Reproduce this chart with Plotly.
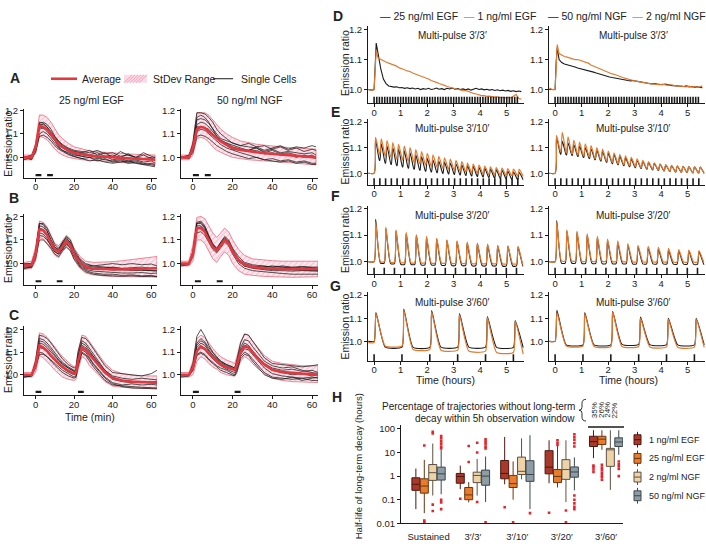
import numpy as np
import plotly.graph_objects as go

W, H = 706, 546
FONT = "Liberation Sans, Arial, Helvetica, sans-serif"
INK = "#1a1a1a"
RED = "#e2383f"
ORANGE = "#e27b30"

# ---------------- A-C : ERK activity after 1-2 pulses (time in min) ----------------
A_T = [-6, -2, 0, 2, 4, 6, 8, 10, 12, 14, 17, 20, 24, 28, 32, 36, 40, 44, 48, 52, 56, 60, 62]
B_T = [-6, -2, 0, 2, 4, 6, 8, 10, 12, 14, 16, 18, 20, 23, 26, 30, 35, 40, 45, 50, 55, 60, 63]
C_T = [-6, -2, 0, 2, 4, 6, 8, 10, 12, 14, 17, 20, 21, 22, 24, 26, 28, 30, 33, 36, 40, 45, 50, 55, 60, 63]

A_EGF_AVG = [1.0, 1.0, 1.04, 1.135, 1.13, 1.12, 1.10, 1.075, 1.055, 1.045, 1.03, 1.02, 1.013, 1.008, 1.005, 1.002, 1.0, 0.998, 0.996, 0.994, 0.992, 0.99, 0.99]
A_EGF_UP = [1.01, 1.01, 1.06, 1.18, 1.18, 1.17, 1.15, 1.12, 1.095, 1.08, 1.06, 1.045, 1.035, 1.028, 1.024, 1.021, 1.019, 1.017, 1.015, 1.013, 1.012, 1.01, 1.01]
A_EGF_LO = [0.99, 0.99, 1.02, 1.09, 1.085, 1.075, 1.055, 1.035, 1.02, 1.01, 1.0, 0.995, 0.99, 0.988, 0.986, 0.983, 0.98, 0.978, 0.976, 0.974, 0.972, 0.97, 0.97]
A_EGF_CELLS = [
    [1.0, 0.99, 1.03, 1.15, 1.145, 1.13, 1.10, 1.07, 1.045, 1.03, 1.02, 1.01, 1.005, 1.01, 1.0, 0.99, 0.985, 0.99, 0.98, 0.985, 0.975, 0.97, 0.965],
    [1.0, 1.0, 1.05, 1.14, 1.14, 1.13, 1.11, 1.085, 1.065, 1.05, 1.035, 1.025, 1.02, 1.012, 1.02, 1.005, 1.01, 1.0, 1.015, 1.0, 0.995, 1.0, 0.99],
    [0.99, 1.0, 1.04, 1.12, 1.125, 1.12, 1.105, 1.085, 1.065, 1.05, 1.035, 1.025, 1.02, 1.03, 1.01, 1.02, 1.0, 1.025, 1.01, 1.0, 1.02, 1.005, 1.0],
    [1.0, 1.0, 1.03, 1.10, 1.11, 1.10, 1.08, 1.06, 1.04, 1.03, 1.015, 1.005, 0.995, 0.985, 0.99, 0.98, 0.975, 0.98, 0.985, 0.975, 0.97, 0.965, 0.96],
    [1.0, 1.01, 1.05, 1.13, 1.125, 1.11, 1.09, 1.07, 1.05, 1.04, 1.025, 1.015, 1.005, 1.0, 0.995, 1.005, 0.99, 0.995, 0.985, 0.99, 0.98, 0.985, 0.975],
    [1.0, 0.995, 1.04, 1.145, 1.15, 1.14, 1.12, 1.09, 1.07, 1.055, 1.04, 1.03, 1.025, 1.02, 1.03, 1.015, 1.02, 1.005, 1.01, 1.0, 1.01, 0.995, 1.0],
    [1.0, 1.0, 1.02, 1.09, 1.095, 1.085, 1.07, 1.05, 1.035, 1.025, 1.012, 1.003, 0.995, 1.0, 0.985, 0.995, 0.98, 0.985, 0.975, 0.98, 0.97, 0.975, 0.97],
]
A_NGF_AVG = [1.0, 1.0, 1.04, 1.12, 1.13, 1.125, 1.11, 1.095, 1.08, 1.068, 1.053, 1.04, 1.032, 1.026, 1.022, 1.018, 1.015, 1.012, 1.01, 1.008, 1.005, 1.003, 1.0]
A_NGF_UP = [1.01, 1.01, 1.07, 1.19, 1.19, 1.19, 1.18, 1.16, 1.14, 1.12, 1.10, 1.085, 1.07, 1.062, 1.056, 1.052, 1.048, 1.045, 1.042, 1.04, 1.038, 1.036, 1.035]
A_NGF_LO = [0.99, 0.99, 1.01, 1.08, 1.085, 1.08, 1.065, 1.045, 1.03, 1.02, 1.01, 1.0, 0.995, 0.99, 0.988, 0.985, 0.982, 0.98, 0.978, 0.975, 0.972, 0.97, 0.968]
A_NGF_CELLS = [
    [1.0, 1.0, 1.06, 1.19, 1.19, 1.185, 1.17, 1.15, 1.12, 1.10, 1.08, 1.06, 1.05, 1.06, 1.045, 1.05, 1.035, 1.045, 1.03, 1.04, 1.025, 1.035, 1.03],
    [1.0, 1.01, 1.05, 1.17, 1.18, 1.17, 1.15, 1.12, 1.09, 1.07, 1.06, 1.05, 1.04, 1.03, 1.045, 1.03, 1.04, 1.05, 1.035, 1.045, 1.04, 1.05, 1.045],
    [1.0, 1.0, 1.04, 1.14, 1.15, 1.145, 1.13, 1.11, 1.09, 1.075, 1.06, 1.045, 1.035, 1.025, 1.03, 1.015, 1.02, 1.01, 1.015, 1.0, 1.01, 1.0, 0.995],
    [1.0, 0.995, 1.03, 1.11, 1.12, 1.115, 1.10, 1.085, 1.07, 1.055, 1.04, 1.03, 1.02, 1.01, 1.0, 0.99, 0.995, 0.985, 0.99, 0.98, 0.985, 0.975, 0.975],
    [1.0, 1.0, 1.02, 1.09, 1.095, 1.09, 1.08, 1.065, 1.05, 1.04, 1.025, 1.015, 1.005, 0.995, 1.0, 0.99, 0.985, 0.98, 0.985, 0.975, 0.98, 0.97, 0.97],
    [1.0, 1.005, 1.05, 1.16, 1.165, 1.16, 1.145, 1.12, 1.10, 1.08, 1.07, 1.06, 1.05, 1.045, 1.04, 1.02, 1.03, 1.015, 1.02, 1.01, 1.0, 1.01, 1.0],
    [1.0, 1.0, 1.04, 1.13, 1.13, 1.125, 1.12, 1.10, 1.08, 1.07, 1.05, 1.035, 1.03, 1.03, 1.04, 1.025, 1.035, 1.02, 1.025, 1.02, 1.015, 1.02, 1.01],
]

B_EGF_AVG = [0.99, 0.995, 1.04, 1.145, 1.14, 1.12, 1.09, 1.06, 1.05, 1.075, 1.095, 1.08, 1.04, 1.005, 0.985, 0.978, 0.976, 0.975, 0.975, 0.976, 0.977, 0.979, 0.98]
B_EGF_UP = [1.005, 1.01, 1.07, 1.18, 1.175, 1.155, 1.12, 1.085, 1.075, 1.10, 1.12, 1.105, 1.065, 1.03, 1.01, 1.005, 1.005, 1.008, 1.012, 1.017, 1.022, 1.028, 1.03]
B_EGF_LO = [0.975, 0.98, 1.01, 1.11, 1.105, 1.085, 1.06, 1.035, 1.025, 1.05, 1.07, 1.055, 1.015, 0.98, 0.96, 0.952, 0.948, 0.945, 0.944, 0.943, 0.943, 0.943, 0.943]
B_EGF_CELLS = [
    [0.99, 0.99, 1.05, 1.17, 1.165, 1.14, 1.10, 1.07, 1.06, 1.09, 1.11, 1.09, 1.05, 1.015, 0.995, 0.99, 0.995, 1.0, 0.995, 1.0, 0.995, 0.998, 0.99],
    [0.98, 0.985, 1.04, 1.15, 1.145, 1.125, 1.09, 1.06, 1.05, 1.08, 1.10, 1.085, 1.045, 1.0, 0.98, 0.975, 0.978, 0.972, 0.975, 0.97, 0.972, 0.97, 0.97],
    [1.0, 1.0, 1.03, 1.13, 1.125, 1.105, 1.075, 1.05, 1.04, 1.06, 1.08, 1.065, 1.03, 0.99, 0.97, 0.96, 0.955, 0.955, 0.95, 0.952, 0.948, 0.95, 0.945],
    [0.99, 0.995, 1.05, 1.16, 1.155, 1.135, 1.10, 1.07, 1.055, 1.085, 1.105, 1.09, 1.05, 1.01, 0.99, 0.985, 0.982, 0.985, 0.98, 0.982, 0.985, 0.98, 0.982],
    [0.985, 0.99, 1.035, 1.12, 1.115, 1.10, 1.075, 1.05, 1.04, 1.065, 1.085, 1.07, 1.035, 0.995, 0.975, 0.968, 0.965, 0.962, 0.96, 0.96, 0.962, 0.958, 0.96],
    [0.995, 1.0, 1.045, 1.17, 1.17, 1.15, 1.115, 1.08, 1.065, 1.09, 1.115, 1.10, 1.06, 1.02, 1.0, 0.99, 0.985, 0.98, 0.978, 0.975, 0.972, 0.97, 0.968],
    [0.98, 0.985, 1.02, 1.10, 1.10, 1.085, 1.065, 1.04, 1.03, 1.055, 1.07, 1.055, 1.02, 0.985, 0.965, 0.955, 0.95, 0.948, 0.946, 0.948, 0.945, 0.946, 0.944],
]
B_NGF_AVG = [1.0, 1.0, 1.04, 1.15, 1.15, 1.135, 1.10, 1.07, 1.055, 1.08, 1.10, 1.085, 1.05, 1.015, 0.995, 0.985, 0.98, 0.978, 0.977, 0.976, 0.976, 0.977, 0.978]
B_NGF_UP = [1.01, 1.01, 1.08, 1.195, 1.2, 1.19, 1.16, 1.13, 1.11, 1.13, 1.15, 1.135, 1.10, 1.06, 1.035, 1.02, 1.015, 1.012, 1.01, 1.01, 1.01, 1.01, 1.01]
B_NGF_LO = [0.99, 0.99, 1.01, 1.10, 1.10, 1.085, 1.05, 1.02, 1.005, 1.03, 1.05, 1.035, 1.0, 0.97, 0.955, 0.95, 0.946, 0.944, 0.943, 0.942, 0.942, 0.943, 0.944]
B_NGF_CELLS = [
    [1.0, 1.0, 1.05, 1.17, 1.17, 1.15, 1.11, 1.08, 1.06, 1.09, 1.11, 1.095, 1.06, 1.02, 1.0, 0.99, 0.985, 0.99, 0.985, 0.98, 0.985, 0.98, 0.98],
    [1.0, 1.0, 1.04, 1.16, 1.16, 1.145, 1.11, 1.075, 1.06, 1.085, 1.105, 1.09, 1.055, 1.01, 0.99, 0.98, 0.975, 0.97, 0.97, 0.968, 0.97, 0.968, 0.968],
    [0.99, 0.995, 1.03, 1.13, 1.135, 1.12, 1.09, 1.06, 1.045, 1.07, 1.09, 1.075, 1.04, 1.0, 0.98, 0.97, 0.965, 0.96, 0.958, 0.955, 0.956, 0.955, 0.955],
    [1.0, 1.0, 1.05, 1.175, 1.18, 1.16, 1.12, 1.085, 1.065, 1.09, 1.115, 1.10, 1.065, 1.03, 1.005, 0.995, 0.99, 0.985, 0.985, 0.982, 0.98, 0.982, 0.98],
    [0.995, 1.0, 1.04, 1.15, 1.155, 1.14, 1.105, 1.07, 1.055, 1.08, 1.10, 1.085, 1.05, 1.01, 0.99, 0.982, 0.978, 0.975, 0.975, 0.972, 0.972, 0.97, 0.97],
    [1.0, 1.0, 1.045, 1.17, 1.175, 1.155, 1.115, 1.08, 1.06, 1.085, 1.105, 1.09, 1.05, 1.01, 0.99, 0.985, 0.99, 0.985, 0.99, 0.985, 0.988, 0.985, 0.985],
]

C_EGF_AVG = [1.0, 1.0, 1.04, 1.13, 1.12, 1.105, 1.085, 1.065, 1.05, 1.035, 1.018, 1.005, 1.01, 1.06, 1.12, 1.11, 1.09, 1.07, 1.04, 1.01, 0.985, 0.975, 0.97, 0.968, 0.966, 0.965]
C_EGF_UP = [1.01, 1.01, 1.07, 1.185, 1.18, 1.165, 1.145, 1.12, 1.10, 1.08, 1.055, 1.035, 1.04, 1.10, 1.175, 1.17, 1.145, 1.12, 1.085, 1.05, 1.02, 1.005, 0.998, 0.995, 0.995, 0.995]
C_EGF_LO = [0.99, 0.99, 1.01, 1.085, 1.075, 1.06, 1.04, 1.02, 1.005, 0.99, 0.98, 0.975, 0.98, 1.02, 1.08, 1.07, 1.04, 1.02, 0.995, 0.97, 0.95, 0.945, 0.942, 0.94, 0.94, 0.94]
C_EGF_CELLS = [
    [1.0, 1.0, 1.06, 1.175, 1.17, 1.16, 1.14, 1.115, 1.09, 1.07, 1.045, 1.03, 1.035, 1.10, 1.165, 1.16, 1.14, 1.115, 1.08, 1.04, 1.01, 1.005, 1.0, 0.995, 1.005, 1.02],
    [0.99, 0.995, 1.04, 1.14, 1.135, 1.12, 1.10, 1.08, 1.06, 1.045, 1.03, 1.015, 1.02, 1.07, 1.13, 1.12, 1.10, 1.08, 1.05, 1.02, 0.995, 0.985, 0.98, 0.985, 0.98, 0.978],
    [1.0, 1.0, 1.03, 1.10, 1.095, 1.08, 1.06, 1.04, 1.025, 1.01, 0.995, 0.985, 0.99, 1.035, 1.095, 1.085, 1.06, 1.035, 1.005, 0.975, 0.955, 0.95, 0.948, 0.945, 0.944, 0.942],
    [0.995, 1.0, 1.05, 1.16, 1.155, 1.14, 1.12, 1.095, 1.075, 1.055, 1.035, 1.02, 1.025, 1.085, 1.15, 1.14, 1.115, 1.09, 1.055, 1.02, 0.99, 0.975, 0.97, 0.97, 0.968, 0.97],
    [1.0, 0.995, 1.035, 1.12, 1.115, 1.10, 1.08, 1.06, 1.045, 1.03, 1.012, 1.0, 1.005, 1.05, 1.11, 1.10, 1.075, 1.05, 1.02, 0.99, 0.965, 0.955, 0.96, 0.955, 0.958, 0.955],
    [1.0, 1.0, 1.04, 1.09, 1.09, 1.08, 1.065, 1.05, 1.035, 1.02, 1.005, 0.99, 0.995, 1.04, 1.10, 1.09, 1.07, 1.045, 1.015, 0.985, 0.96, 0.948, 0.942, 0.94, 0.94, 0.938],
    [0.99, 0.995, 1.045, 1.15, 1.145, 1.13, 1.11, 1.085, 1.065, 1.05, 1.03, 1.015, 1.02, 1.08, 1.14, 1.13, 1.105, 1.08, 1.045, 1.01, 0.98, 0.97, 0.965, 0.968, 0.964, 0.962],
]
C_NGF_AVG = [1.0, 1.0, 1.03, 1.105, 1.125, 1.115, 1.095, 1.075, 1.06, 1.045, 1.033, 1.025, 1.022, 1.04, 1.10, 1.125, 1.12, 1.10, 1.07, 1.045, 1.022, 1.012, 1.007, 1.005, 1.003, 1.002]
C_NGF_UP = [1.01, 1.01, 1.06, 1.16, 1.175, 1.165, 1.14, 1.115, 1.095, 1.08, 1.065, 1.055, 1.05, 1.075, 1.145, 1.18, 1.175, 1.15, 1.115, 1.085, 1.06, 1.05, 1.045, 1.04, 1.04, 1.04]
C_NGF_LO = [0.99, 0.99, 1.0, 1.06, 1.08, 1.07, 1.05, 1.035, 1.025, 1.01, 1.0, 0.995, 0.995, 1.005, 1.06, 1.08, 1.07, 1.05, 1.025, 1.005, 0.985, 0.975, 0.97, 0.968, 0.967, 0.966]
C_NGF_CELLS = [
    [1.0, 1.0, 1.05, 1.17, 1.20, 1.17, 1.13, 1.10, 1.08, 1.06, 1.045, 1.035, 1.03, 1.06, 1.14, 1.18, 1.175, 1.15, 1.11, 1.075, 1.05, 1.045, 1.04, 1.035, 1.04, 1.045],
    [0.995, 1.0, 1.03, 1.12, 1.14, 1.13, 1.105, 1.085, 1.07, 1.055, 1.04, 1.03, 1.025, 1.045, 1.11, 1.14, 1.13, 1.105, 1.075, 1.05, 1.03, 1.02, 1.025, 1.015, 1.02, 1.01],
    [1.0, 0.995, 1.02, 1.09, 1.10, 1.09, 1.07, 1.055, 1.04, 1.03, 1.02, 1.005, 1.0, 1.02, 1.08, 1.10, 1.09, 1.07, 1.04, 1.01, 0.99, 0.985, 0.98, 0.985, 0.975, 0.975],
    [1.0, 1.0, 1.04, 1.14, 1.16, 1.145, 1.12, 1.095, 1.075, 1.06, 1.045, 1.035, 1.03, 1.055, 1.12, 1.155, 1.15, 1.125, 1.09, 1.06, 1.04, 1.03, 1.035, 1.02, 1.01, 1.005],
    [0.99, 0.995, 1.02, 1.085, 1.095, 1.085, 1.065, 1.05, 1.035, 1.02, 1.01, 1.0, 0.995, 1.01, 1.07, 1.09, 1.085, 1.06, 1.03, 1.0, 0.985, 0.98, 0.99, 0.975, 0.985, 0.99],
    [1.0, 1.0, 1.035, 1.13, 1.15, 1.14, 1.11, 1.085, 1.065, 1.05, 1.035, 1.025, 1.02, 1.045, 1.105, 1.13, 1.125, 1.105, 1.075, 1.045, 1.02, 1.01, 1.0, 1.005, 0.995, 1.0],
    [1.0, 1.0, 1.03, 1.11, 1.12, 1.11, 1.09, 1.07, 1.055, 1.04, 1.025, 1.015, 1.01, 1.03, 1.09, 1.115, 1.11, 1.09, 1.06, 1.03, 1.005, 0.995, 0.99, 0.985, 0.99, 0.985],
]

# stimulus bars (min)
A_BARS = [[0, 3], [6, 9]]
B_BARS = [[0, 3], [11, 14]]
B_NGF_BARS = [[1, 4], [12, 15]]
C_BARS = [[0, 3], [22, 25]]
C_NGF_BARS = [[0, 3], [21, 24]]

# ---------------- D-G : multi-pulse experiments (time in hours) ----------------
D_T = [-0.22, -0.1, 0.0, 0.04, 0.08] + [round(0.15 + 0.1 * i, 2) for i in range(55)]
D_EGF25 = [1.0, 0.998, 1.0, 1.09, 1.155,
           1.12, 1.07, 1.035, 1.02, 1.012, 1.01, 1.008, 1.009, 1.006, 1.007, 1.004,
           1.006, 1.003, 1.005, 1.002, 1.004, 1.0, 1.003, 1.001, 1.004, 1.0, 1.002,
           1.005, 1.001, 1.003, 1.0, 1.004, 1.002, 1.005, 1.001, 1.003, 1.0, 1.002,
           0.999, 1.002, 0.998, 1.001, 1.004, 1.0, 1.002, 0.999, 1.001, 0.998, 1.0,
           0.997, 0.999, 0.996, 0.998, 0.995, 0.997, 0.994, 0.996, 0.993, 0.995, 0.993]
D_EGF1 = [1.0, 0.997, 1.0, 1.08, 1.13,
          1.105, 1.10, 1.095, 1.092, 1.088, 1.085, 1.08, 1.078, 1.072, 1.07, 1.066,
          1.062, 1.06, 1.055, 1.052, 1.048, 1.046, 1.042, 1.038, 1.035, 1.03, 1.028,
          1.024, 1.02, 1.018, 1.014, 1.01, 1.008, 1.004, 1.002, 1.0, 0.998, 0.996,
          0.997, 0.993, 0.99, 0.987, 0.985, 0.982, 0.98, 0.98, 0.977, 0.978, 0.976,
          0.975, 0.976, 0.973, 0.974, 0.972, 0.974, 0.972, 0.978, 0.984, 0.97, 0.968]
D_NGF50 = [1.0, 1.0, 1.0, 1.09, 1.14,
           1.10, 1.09, 1.085, 1.083, 1.08, 1.078, 1.075, 1.072, 1.07, 1.067, 1.065,
           1.062, 1.06, 1.058, 1.055, 1.052, 1.05, 1.048, 1.045, 1.042, 1.04, 1.038,
           1.036, 1.034, 1.033, 1.031, 1.03, 1.029, 1.03, 1.028, 1.026, 1.025, 1.024,
           1.022, 1.02, 1.019, 1.02, 1.018, 1.017, 1.016, 1.018, 1.015, 1.014, 1.013,
           1.012, 1.013, 1.011, 1.01, 1.012, 1.009, 1.01, 1.008, 1.009, 1.007, 1.006]
D_NGF2 = [1.005, 1.0, 1.0, 1.10, 1.15,
          1.12, 1.115, 1.11, 1.108, 1.105, 1.104, 1.10, 1.10, 1.097, 1.095, 1.092,
          1.088, 1.082, 1.078, 1.074, 1.07, 1.066, 1.062, 1.058, 1.055, 1.052, 1.05,
          1.046, 1.043, 1.04, 1.037, 1.034, 1.032, 1.03, 1.028, 1.026, 1.025, 1.023,
          1.022, 1.02, 1.019, 1.018, 1.017, 1.016, 1.018, 1.015, 1.014, 1.016, 1.013,
          1.012, 1.011, 1.012, 1.01, 1.009, 1.011, 1.008, 1.01, 1.007, 1.009, 1.012]

# pulse periods (pulse length + gap), hours
D_PERIOD = 6 / 60
E_PERIOD = 13 / 60
F_PERIOD = 23 / 60
G_PERIOD = 63 / 60

E_EGF25_PEAK = [1.13, 1.115, 1.105, 1.10, 1.095, 1.088, 1.08, 1.072, 1.065, 1.058, 1.052, 1.048, 1.044, 1.04, 1.036, 1.032, 1.029, 1.026, 1.022, 1.019, 1.016, 1.013, 1.011, 1.008, 1.005, 1.003]
E_EGF25_LOW = [1.0, 1.05, 1.04, 1.035, 1.03, 1.025, 1.02, 1.016, 1.012, 1.008, 1.005, 1.002, 1.0, 0.998, 0.996, 0.994, 0.992, 0.99, 0.988, 0.986, 0.984, 0.982, 0.98, 0.979, 0.977, 0.976, 0.975]
E_EGF1_PEAK = [1.14, 1.135, 1.128, 1.12, 1.113, 1.106, 1.10, 1.092, 1.085, 1.078, 1.072, 1.066, 1.06, 1.055, 1.05, 1.045, 1.04, 1.036, 1.032, 1.028, 1.025, 1.022, 1.02, 1.018, 1.016, 1.015]
E_EGF1_LOW = [1.0, 1.075, 1.068, 1.062, 1.057, 1.053, 1.048, 1.043, 1.038, 1.033, 1.028, 1.024, 1.02, 1.016, 1.012, 1.009, 1.006, 1.003, 1.0, 0.998, 0.996, 0.994, 0.993, 0.992, 0.991, 0.99, 0.988]
E_NGF50_PEAK = [1.14, 1.125, 1.118, 1.112, 1.106, 1.10, 1.095, 1.09, 1.085, 1.078, 1.072, 1.066, 1.06, 1.055, 1.05, 1.046, 1.042, 1.038, 1.035, 1.032, 1.03, 1.028, 1.027, 1.026, 1.025, 1.024]
E_NGF50_LOW = [1.0, 1.075, 1.072, 1.07, 1.066, 1.062, 1.058, 1.053, 1.048, 1.043, 1.038, 1.034, 1.03, 1.026, 1.022, 1.019, 1.016, 1.013, 1.011, 1.009, 1.007, 1.005, 1.004, 1.003, 1.002, 1.001, 1.0]
E_NGF2_PEAK = [1.148, 1.16, 1.142, 1.13, 1.122, 1.115, 1.108, 1.10, 1.094, 1.087, 1.08, 1.074, 1.068, 1.062, 1.056, 1.05, 1.045, 1.041, 1.037, 1.034, 1.031, 1.029, 1.027, 1.026, 1.025, 1.024]
E_NGF2_LOW = [1.0, 1.085, 1.08, 1.076, 1.072, 1.068, 1.064, 1.058, 1.053, 1.048, 1.043, 1.038, 1.034, 1.03, 1.026, 1.022, 1.019, 1.016, 1.013, 1.01, 1.008, 1.006, 1.004, 1.003, 1.002, 1.001, 1.0]

F_EGF25_PEAK = [1.16, 1.125, 1.115, 1.105, 1.10, 1.09, 1.085, 1.08, 1.075, 1.07, 1.068, 1.064, 1.06, 1.058, 1.055]
F_EGF25_LOW = [1.0, 0.995, 0.993, 0.99, 0.99, 0.988, 0.988, 0.987, 0.986, 0.986, 0.985, 0.985, 0.985, 0.984, 0.984, 0.984]
F_EGF1_PEAK = [1.15, 1.13, 1.12, 1.11, 1.10, 1.095, 1.088, 1.082, 1.078, 1.074, 1.07, 1.066, 1.062, 1.06, 1.058]
F_EGF1_LOW = [1.0, 1.0, 0.998, 0.997, 0.996, 0.996, 0.995, 0.995, 0.994, 0.994, 0.993, 0.993, 0.993, 0.992, 0.992, 0.99]
F_NGF50_PEAK = [1.155, 1.115, 1.11, 1.10, 1.09, 1.08, 1.072, 1.062, 1.056, 1.052, 1.048, 1.044, 1.042, 1.04, 1.038]
F_NGF50_LOW = [1.0, 0.995, 0.995, 0.994, 0.994, 0.993, 0.993, 0.993, 0.992, 0.992, 0.992, 0.992, 0.991, 0.991, 0.99, 0.99]
F_NGF2_PEAK = [1.15, 1.12, 1.115, 1.105, 1.095, 1.085, 1.078, 1.068, 1.062, 1.058, 1.054, 1.05, 1.046, 1.044, 1.042]
F_NGF2_LOW = [1.0, 1.003, 1.003, 1.002, 1.002, 1.002, 1.001, 1.001, 1.0, 1.0, 1.0, 1.0, 0.999, 0.999, 0.999, 0.998]

G_EGF25_PEAK = [1.125, 1.14, 1.133, 1.12, 1.108, 1.09]
G_EGF25_LOW = [1.0, 0.975, 0.974, 0.975, 0.975, 0.974, 0.973]
G_EGF1_PEAK = [1.12, 1.135, 1.128, 1.115, 1.103, 1.087]
G_EGF1_LOW = [0.995, 0.98, 0.965, 0.962, 0.958, 0.952, 0.945]
G_NGF50_PEAK = [1.135, 1.125, 1.13, 1.105, 1.10, 1.10]
G_NGF50_LOW = [1.0, 0.985, 0.985, 0.987, 0.986, 0.985, 0.985]
G_NGF2_PEAK = [1.125, 1.12, 1.128, 1.10, 1.095, 1.095]
G_NGF2_LOW = [1.0, 0.98, 0.978, 0.978, 0.976, 0.975, 0.974]

# ---------------- H : half-life box plots ----------------
H_CATS = ["Sustained", "3\u2032/3\u2032", "3\u2032/10\u2032", "3\u2032/20\u2032", "3\u2032/60\u2032"]
H_GROUPS = ["1 ng/ml EGF", "25 ng/ml EGF", "2 ng/ml NGF", "50 ng/ml NGF"]
EGF1_Q1 = [0.25, 0.5, 0.77, 1.25, 18]
EGF1_MED = [0.45, 0.97, 1.3, 2.4, 29]
EGF1_Q3 = [0.85, 1.3, 4.6, 12, 49]
EGF1_LO = [0.04, 0.28, 0.45, 0.5, 5.8]
EGF1_HI = [2.1, 2.8, 46, 33, 88]
EGF1_OUT = [[], [0.11], [0.048], [0.028], [2.8, 2.4, 1.9, 1.5]]
EGF25_Q1 = [0.19, 0.1, 0.33, 0.53, 22]
EGF25_MED = [0.38, 0.16, 0.48, 0.97, 37]
EGF25_Q3 = [0.77, 0.33, 1.07, 1.9, 49]
EGF25_LO = [0.027, 0.077, 0.1, 0.33, 13]
EGF25_HI = [4.9, 0.56, 4.2, 24, 88]
EGF25_OUT = [[20, 0.013, 0.011], [19, 4], [0.011], [33, 26, 21], [3, 2.3, 1.8, 1.4, 1.1, 0.9, 0.7]]
NGF2_Q1 = [0.66, 0.53, 1.17, 0.73, 2.6]
NGF2_MED = [1.4, 1.07, 1.6, 1.9, 13]
NGF2_Q3 = [3.1, 1.47, 6.4, 5.0, 15]
NGF2_LO = [0.15, 0.15, 0.73, 0.08, 0.26]
NGF2_HI = [24, 5.3, 40, 33, 88]
NGF2_OUT = [[75, 64, 0.062, 0.033], [26, 10, 0.08], [], [0.035, 0.011], []]
NGF50_Q1 = [0.68, 0.41, 0.6, 0.9, 18]
NGF50_MED = [1.25, 1.0, 1.17, 1.5, 28]
NGF50_Q3 = [2.4, 1.8, 4.5, 2.45, 42]
NGF50_LO = [0.17, 0.08, 0.04, 0.25, 8]
NGF50_HI = [13, 6.8, 54, 6.2, 88]
NGF50_OUT = [[50, 40, 30, 24, 18, 15, 0.1, 0.077, 0.04], [36, 29, 23, 18, 15, 0.011], [0.027],
             [60, 45, 35, 25, 18, 0.15, 0.1, 0.07, 0.05, 0.04], [4.2, 3.2, 2.6, 2.0, 1.0]]
NO_DECAY_PCT = ["35%", "26%", "24%", "22%"]

BOX_FILL = ["#a8392b", "#e97c2b", "#eed3a9", "#8d9ca5"]
BOX_LINE = ["#4d1710", "#6b3410", "#5e5040", "#3c464c"]


fig = go.Figure()


def refs(n):
    return ("x" if n == 1 else f"x{n}", "y" if n == 1 else f"y{n}")


def set_axes(n, xpx, ypx, xr, yr, xt, yt, ytext, xextra=None, yextra=None):
    xr_, yr_ = refs(n)
    common = dict(showline=True, linecolor=INK, linewidth=1, ticks="outside", ticklen=3,
                  tickwidth=1, tickcolor=INK, showgrid=False, zeroline=False,
                  tickfont=dict(size=9.5, color="#222"))
    xa = dict(domain=[xpx[0] / W, xpx[1] / W], range=xr, anchor=yr_, tickvals=xt,
              ticklabelstandoff=-3, **common)
    ya = dict(domain=[1 - ypx[1] / H, 1 - ypx[0] / H], range=yr, anchor=xr_,
              tickvals=yt, ticktext=ytext, **common)
    xa.update(xextra or {})
    ya.update(yextra or {})
    fig.update_layout({"xaxis" + ("" if n == 1 else str(n)): xa,
                       "yaxis" + ("" if n == 1 else str(n)): ya})


def ann(text, x, y, size=10, xanchor="center", **kw):
    fig.add_annotation(text=text, x=x / W, y=1 - y / H, xref="paper", yref="paper",
                       xanchor=xanchor, yanchor="middle", showarrow=False,
                       font=dict(size=size, color="#222", family=FONT), **kw)


def px(x, y):
    return f"{x / W:.5f},{1 - y / H:.5f}"


# ---- panels A-C ----
LEFT_X = [(24, 157), (181, 318)]
LEFT_ROWS = [
    ((107, 177), (0.912, 1.205), [(A_T, A_EGF_AVG, A_EGF_UP, A_EGF_LO, A_EGF_CELLS, A_BARS),
                                  (A_T, A_NGF_AVG, A_NGF_UP, A_NGF_LO, A_NGF_CELLS, A_BARS)]),
    ((214, 286), (0.908, 1.208), [(B_T, B_EGF_AVG, B_EGF_UP, B_EGF_LO, B_EGF_CELLS, B_BARS),
                                  (B_T, B_NGF_AVG, B_NGF_UP, B_NGF_LO, B_NGF_CELLS, B_NGF_BARS)]),
    ((327, 398), (0.909, 1.217), [(C_T, C_EGF_AVG, C_EGF_UP, C_EGF_LO, C_EGF_CELLS, C_BARS),
                                  (C_T, C_NGF_AVG, C_NGF_UP, C_NGF_LO, C_NGF_CELLS, C_NGF_BARS)]),
]
n = 0
for ypx, yr, pair in LEFT_ROWS:
    for col, (t, avg, up, lo, cells, bars) in enumerate(pair):
        n += 1
        set_axes(n, LEFT_X[col], ypx, [-6, 63], list(yr), [0, 20, 40, 60],
                 [1.0, 1.1, 1.2], ["1.0", "1.1", "1.2"])
        xa, ya = refs(n)
        fig.add_trace(go.Scatter(
            x=t + t[::-1], y=up + lo[::-1], fill="toself", mode="lines",
            fillcolor="rgba(248,200,218,0.55)",
            fillpattern=dict(shape="/", fgcolor="#ef8fae", bgcolor="rgba(251,222,232,0.7)",
                             size=4, solidity=0.25),
            line=dict(color="#ec6877", width=0.8), xaxis=xa, yaxis=ya, hoverinfo="skip"))
        for c in cells:
            fig.add_trace(go.Scatter(x=t, y=c, mode="lines", line=dict(color=INK, width=0.75),
                                     xaxis=xa, yaxis=ya))
        fig.add_trace(go.Scatter(x=t, y=avg, mode="lines", line=dict(color=RED, width=2.6),
                                 xaxis=xa, yaxis=ya))
        for b in bars:
            fig.add_trace(go.Scatter(x=b, y=[0.925, 0.925], mode="lines",
                                     line=dict(color=INK, width=2.2), xaxis=xa, yaxis=ya))


# ---- panels D-G ----
def pulse_series(period, peaks, lows, rise, decay, t_end=5.62):
    pulses = np.arange(len(peaks)) * period
    x, y = [-0.22], [lows[0]]
    for k, p in enumerate(pulses):
        if x[-1] < p:
            x.append(p)
            y.append(lows[k])
        x.append(p + rise)
        y.append(peaks[k])
        nxt = pulses[k + 1] if k + 1 < len(pulses) else t_end
        x.append(min(p + decay, nxt))
        y.append(lows[k + 1])
    if x[-1] < t_end:
        x.append(t_end)
        y.append(lows[-1])
    return x, y


RIGHT_X = [(368, 524), (549, 705)]
RIGHT_ROWS = [
    ((22, 101), (0.954, 1.213), D_PERIOD, 55, "Multi-pulse 3\u2032/3\u2032",
     [((D_T, D_EGF25), (D_T, D_EGF1)), ((D_T, D_NGF50), (D_T, D_NGF2))], 0.0),
    ((117, 184), (0.954, 1.212), E_PERIOD, 26, "Multi-pulse 3\u2032/10\u2032",
     [(pulse_series(E_PERIOD, E_EGF25_PEAK, E_EGF25_LOW, 0.055, 0.2),
       pulse_series(E_PERIOD, E_EGF1_PEAK, E_EGF1_LOW, 0.055, 0.2)),
      (pulse_series(E_PERIOD, E_NGF50_PEAK, E_NGF50_LOW, 0.055, 0.2),
       pulse_series(E_PERIOD, E_NGF2_PEAK, E_NGF2_LOW, 0.055, 0.2))], 0.7),
    ((205, 275), (0.952, 1.211), F_PERIOD, 15, "Multi-pulse 3\u2032/20\u2032",
     [(pulse_series(F_PERIOD, F_EGF25_PEAK, F_EGF25_LOW, 0.06, 0.24),
       pulse_series(F_PERIOD, F_EGF1_PEAK, F_EGF1_LOW, 0.06, 0.24)),
      (pulse_series(F_PERIOD, F_NGF50_PEAK, F_NGF50_LOW, 0.06, 0.24),
       pulse_series(F_PERIOD, F_NGF2_PEAK, F_NGF2_LOW, 0.06, 0.24))], 0.6),
    ((293, 363), (0.915, 1.213), G_PERIOD, 6, "Multi-pulse 3\u2032/60\u2032",
     [(pulse_series(G_PERIOD, G_EGF25_PEAK, G_EGF25_LOW, 0.07, 0.42),
       pulse_series(G_PERIOD, G_EGF1_PEAK, G_EGF1_LOW, 0.07, 0.42)),
      (pulse_series(G_PERIOD, G_NGF50_PEAK, G_NGF50_LOW, 0.07, 0.42),
       pulse_series(G_PERIOD, G_NGF2_PEAK, G_NGF2_LOW, 0.07, 0.42))], 0.5),
]
for ypx, yr, period, npulse, title, pair, smooth in RIGHT_ROWS:
    for col, (black, orange) in enumerate(pair):
        n += 1
        set_axes(n, RIGHT_X[col], ypx, [-0.23, 5.65], list(yr), [0, 1, 2, 3, 4, 5],
                 [1.0, 1.1, 1.2], ["1.0", "1.1", "1.2"])
        xa, ya = refs(n)
        shape = dict(shape="spline", smoothing=smooth) if smooth else dict(shape="linear")
        fig.add_trace(go.Scatter(x=black[0], y=black[1], mode="lines",
                                 line=dict(color=INK, width=1.1, **shape), xaxis=xa, yaxis=ya))
        fig.add_trace(go.Scatter(x=orange[0], y=orange[1], mode="lines",
                                 line=dict(color=ORANGE, width=1.2, **shape), xaxis=xa, yaxis=ya))
        # pulse markers sitting on the x axis
        ybar = yr[0] + (yr[1] - yr[0]) * 3.2 / (ypx[1] - ypx[0])
        pt = np.arange(npulse) * period
        fig.add_trace(go.Scatter(x=pt, y=[ybar] * npulse, mode="markers",
                                 marker=dict(symbol="line-ns", size=5,
                                             line=dict(color=INK, width=1.6)),
                                 xaxis=xa, yaxis=ya))
        cx = (RIGHT_X[col][0] + RIGHT_X[col][1]) / 2 + 6
        ann(title, cx, ypx[0] + 10, size=10)

# ---- panel H ----
n += 1
HX = (401, 623)
set_axes(n, HX, (428, 528), [-0.62, 4.38], [-2, 2.17], list(range(5)),
         [0.01, 0.1, 1, 10, 100], ["0.01", "0.1", "1", "10", "100"],
         xextra=dict(ticktext=H_CATS, ticks="", ticklabelstandoff=4,
                     tickfont=dict(size=9.5, color="#222")),
         yextra=dict(type="log"))
xa, ya = refs(n)
OFFS = [-0.285, -0.095, 0.095, 0.285]
stats = [
    (EGF1_Q1, EGF1_MED, EGF1_Q3, EGF1_LO, EGF1_HI, EGF1_OUT),
    (EGF25_Q1, EGF25_MED, EGF25_Q3, EGF25_LO, EGF25_HI, EGF25_OUT),
    (NGF2_Q1, NGF2_MED, NGF2_Q3, NGF2_LO, NGF2_HI, NGF2_OUT),
    (NGF50_Q1, NGF50_MED, NGF50_Q3, NGF50_LO, NGF50_HI, NGF50_OUT),
]
for g, (q1, med, q3, lo, hi, out) in enumerate(stats):
    pos = [i + OFFS[g] for i in range(len(H_CATS))]
    fig.add_trace(go.Box(x=pos, q1=q1, median=med, q3=q3, lowerfence=lo, upperfence=hi,
                         width=0.18, whiskerwidth=0, fillcolor=BOX_FILL[g],
                         line=dict(color=BOX_LINE[g], width=1), name=H_GROUPS[g],
                         boxpoints=False, xaxis=xa, yaxis=ya))
    ox, oy = [], []
    for i, vals in enumerate(out):
        ox += [pos[i]] * len(vals)
        oy += vals
    fig.add_trace(go.Scatter(x=ox, y=oy, mode="markers",
                             marker=dict(symbol="square", size=2.6, color="#e8232b"),
                             xaxis=xa, yaxis=ya))

# ---------------- annotations / decorations ----------------
shapes = []
for letter, x, y in [("A", 15, 75), ("B", 14, 197), ("C", 14, 316), ("D", 338, 12),
                     ("E", 335, 110), ("F", 335, 195), ("G", 335, 287), ("H", 337, 400)]:
    ann(f"<b>{letter}</b>", x, y, size=14)

for y in (142, 250, 362):
    ann("Emission ratio", 8, y, size=10.5, textangle=-90)
for y in (60, 150, 240, 328):
    ann("Emission ratio", 345, y, size=10.5, textangle=-90)

ann("25 ng/ml EGF", 91, 98, size=10.5)
ann("50 ng/ml NGF", 249, 98, size=10.5)
ann("Time (min)", 90, 420, size=10.5)
ann("Time (hours)", 445, 382, size=10.5)
ann("Time (hours)", 628, 382, size=10.5)

# legend for A-C
shapes.append(dict(type="line", xref="paper", yref="paper", x0=51 / W, x1=77 / W,
                   y0=1 - 76 / H, y1=1 - 76 / H, line=dict(color=RED, width=2.6)))
ann("Average", 80, 76, size=10.5, xanchor="left")
shapes.append(dict(type="rect", xref="paper", yref="paper", x0=124 / W, x1=147 / W,
                   y0=1 - 80 / H, y1=1 - 72 / H, fillcolor="#fbdbe6", line=dict(width=0)))
hatch = " ".join(f"M {px(124 + i, 80)} L {px(124 + i + 8, 72)}" for i in range(0, 16, 3))
shapes.append(dict(type="path", xref="paper", yref="paper", path=hatch,
                   line=dict(color="#ee8fae", width=0.8)))
ann("StDev Range", 151, 76, size=10.5, xanchor="left")
shapes.append(dict(type="line", xref="paper", yref="paper", x0=213 / W, x1=233 / W,
                   y0=1 - 76 / H, y1=1 - 76 / H, line=dict(color=INK, width=1)))
ann("Single Cells", 239, 76, size=10.5, xanchor="left")

# legends for D
ann(f"<span style='color:{INK}'>\u2014</span> 25 ng/ml EGF  "
    f"<span style='color:{ORANGE}'>\u2014</span> 1 ng/ml EGF", 458, 12, size=10.5)
ann(f"<span style='color:{INK}'>\u2014</span> 50 ng/ml NGF  "
    f"<span style='color:{ORANGE}'>\u2014</span> 2 ng/ml NGF", 627, 12, size=10.5)

# panel H texts
ann("Half-life of long-term decay (hours)", 358, 470, size=9.5, textangle=-90)
ann("Percentage of trajectories without long-term", 577, 409, size=10, xanchor="right")
ann("decay within 5h observation window", 577, 421, size=10, xanchor="right")
brace = (f"M {px(586, 402)} Q {px(582, 402)} {px(582, 406)} L {px(582, 410)} "
         f"Q {px(582, 413)} {px(579, 413)} Q {px(582, 413)} {px(582, 416)} "
         f"L {px(582, 420)} Q {px(582, 424)} {px(586, 424)}")
shapes.append(dict(type="path", xref="paper", yref="paper", path=brace,
                   line=dict(color=INK, width=0.9)))
for i, pct in enumerate(NO_DECAY_PCT):
    ann(pct, 594 + i * 6.8, 413, size=8, textangle=-90)
shapes.append(dict(type="line", xref="paper", yref="paper", x0=588 / W, x1=624 / W,
                   y0=1 - 430 / H, y1=1 - 430 / H, line=dict(color=INK, width=1.5)))

# legend for H
for g, name in enumerate(H_GROUPS):
    yc = 443 + g * 19
    shapes.append(dict(type="line", xref="paper", yref="paper", x0=637.5 / W, x1=637.5 / W,
                       y0=1 - (yc + 8) / H, y1=1 - (yc - 8) / H,
                       line=dict(color=BOX_LINE[g], width=1)))
    shapes.append(dict(type="rect", xref="paper", yref="paper", x0=634 / W, x1=641 / W,
                       y0=1 - (yc + 5) / H, y1=1 - (yc - 5) / H, fillcolor=BOX_FILL[g],
                       line=dict(color=BOX_LINE[g], width=1)))
    shapes.append(dict(type="line", xref="paper", yref="paper", x0=634 / W, x1=641 / W,
                       y0=1 - yc / H, y1=1 - yc / H, line=dict(color=BOX_LINE[g], width=1)))
    ann(name, 647, yc, size=9, xanchor="left")

fig.update_layout(
    width=W, height=H, margin=dict(l=0, r=0, t=0, b=0),
    paper_bgcolor="white", plot_bgcolor="white", showlegend=False,
    font=dict(family=FONT, size=10, color="#222"), shapes=shapes,
)

fig.write_html("out.html", config={"displayModeBar": False},
               post_script="document.body.style.margin='0';")
